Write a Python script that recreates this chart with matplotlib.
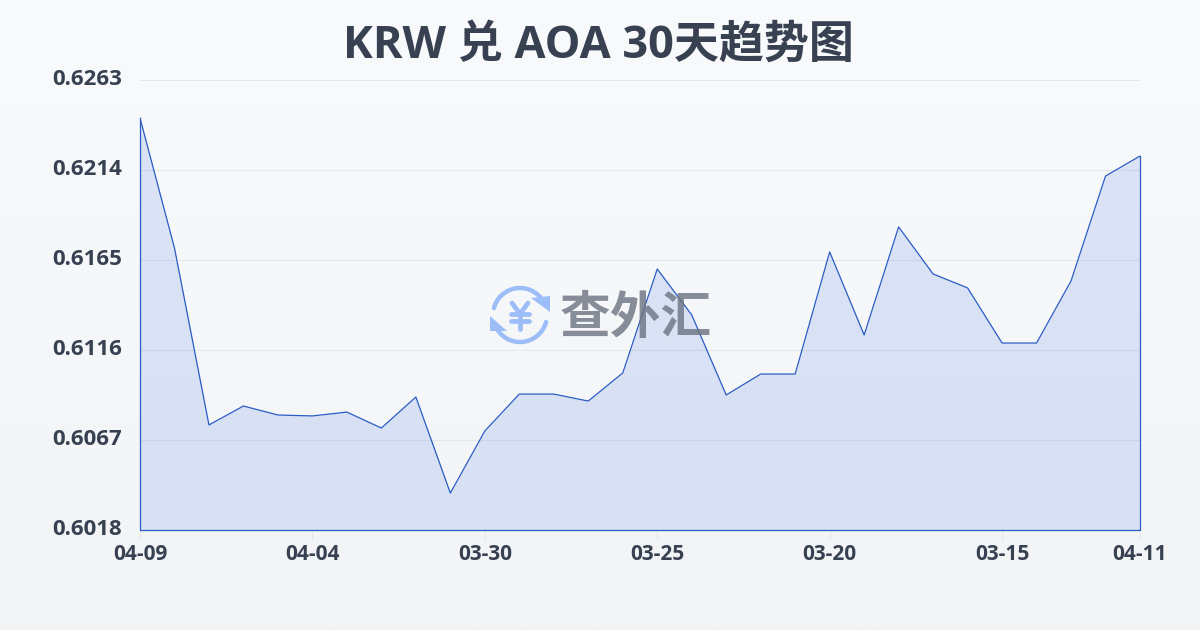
#!/usr/bin/env python3
"""KRW / AOA 30 day trend chart."""

import matplotlib

matplotlib.use("Agg")
import matplotlib.pyplot as plt
import numpy as np
from matplotlib.patches import Arc, Polygon
from matplotlib.transforms import ScaledTranslation

plt.rcParams["font.family"] = ["Open Sans", "Noto Sans CJK SC", "DejaVu Sans"]

TITLE = "KRW 兑 AOA 30天趋势图"
WATERMARK = "查外汇"

RATES = [
    0.62423, 0.61715, 0.60752, 0.60855, 0.60806, 0.60801, 0.60822, 0.60735,
    0.60904, 0.60381, 0.60719, 0.60920, 0.60920, 0.60882, 0.61035, 0.61601,
    0.61351, 0.60915, 0.61029, 0.61029, 0.61694, 0.61242, 0.61830, 0.61574,
    0.61498, 0.61198, 0.61198, 0.61536, 0.62107, 0.62216,
]
X_TICK_POS = [0, 5, 10, 15, 20, 25, 29]
X_TICK_LABELS = ["04-09", "04-04", "03-30", "03-25", "03-20", "03-15", "04-11"]
Y_TICKS = [0.6018, 0.6067, 0.6116, 0.6165, 0.6214, 0.6263]

TEXT = "#374151"
LINE = "#2a5cc4"
GRID = "#e5e7eb"
LOGO = "#9cbdf7"

W, H = 1200, 630


def draw_background(fig) -> None:
    bg = fig.add_axes([0, 0, 1, 1], zorder=0)
    top = np.array([248, 250, 252]) / 255
    bottom = np.array([243, 244, 246]) / 255
    t = np.linspace(0, 1, 256)[:, None, None]
    bg.imshow(top + (bottom - top) * t, aspect="auto", extent=[0, 1, 0, 1])
    bg.axis("off")


def draw_watermark(fig) -> None:
    # overlay in pixel coords, y down
    ov = fig.add_axes([0, 0, 1, 1], zorder=5)
    ov.set_xlim(0, W)
    ov.set_ylim(H, 0)
    ov.axis("off")
    ov.patch.set_alpha(0)

    # arcs use screen angles; y axis is flipped so angles run clockwise
    for start, end in [(195, 325), (15, 150)]:
        ov.add_patch(Arc((520, 315), 54, 54, theta1=start, theta2=end, color=LOGO, lw=3.2, capstyle="round"))
    ov.add_patch(Polygon([(531, 298), (550, 296), (550, 312)], color=LOGO, lw=0))
    ov.add_patch(Polygon([(490, 316), (490, 331), (507, 331)], color=LOGO, lw=0))

    # yen sign
    kw = dict(color=LOGO, lw=3.4, solid_capstyle="round", solid_joinstyle="round")
    ov.plot([512, 520, 528], [303, 314, 303], **kw)
    ov.plot([511, 529], [314, 314], **kw)
    ov.plot([511, 529], [321, 321], **kw)
    ov.plot([520, 520], [314, 329], **kw)

    ov.text(636, 319, WATERMARK, fontsize=36.5, fontweight="bold", family=["Noto Sans CJK SC"],
            color="#6b7280", alpha=0.8, ha="center", va="center")


def main() -> None:
    fig = plt.figure(figsize=(W / 100, H / 100), dpi=100)
    draw_background(fig)

    ax = fig.add_axes([140 / W, 1 - 530 / H, 1000 / W, 450 / H], zorder=2)
    ax.patch.set_alpha(0)
    x = np.arange(len(RATES))
    ax.set_xlim(x[0], x[-1])
    ax.set_ylim(Y_TICKS[0], Y_TICKS[-1])

    ax.fill_between(x, RATES, Y_TICKS[0], color="#3b6fe0", alpha=0.15, lw=0, zorder=2)
    ax.plot(x, RATES, color=LINE, lw=0.9, zorder=3)
    # series outline also closes down the left, right and base
    ax.plot([x[0], x[0], x[-1], x[-1]], [RATES[0], Y_TICKS[0], Y_TICKS[0], RATES[-1]], color=LINE, lw=0.9, zorder=3, clip_on=False)

    ax.set_yticks(Y_TICKS)
    ax.set_yticklabels([f"{v:.4f}" for v in Y_TICKS])
    ax.set_xticks(X_TICK_POS)
    ax.set_xticklabels(X_TICK_LABELS)
    ax.grid(axis="y", color=GRID, lw=0.8, zorder=1)
    ax.set_axisbelow(True)
    for side in ax.spines.values():
        side.set_visible(False)
    ax.tick_params(axis="y", length=0, pad=13, labelsize=16, labelcolor=TEXT)
    ax.tick_params(axis="x", length=7, width=0.8, color=GRID, pad=3, labelsize=15, labelcolor=TEXT)
    for lab in ax.get_xticklabels() + ax.get_yticklabels():
        lab.set_fontweight("bold")
    # y labels sit a little above their gridlines
    nudge = ScaledTranslation(0, 2 / 72, fig.dpi_scale_trans)
    for lab in ax.get_yticklabels():
        lab.set_transform(lab.get_transform() + nudge)

    fig.text(598 / W, 1 - 46 / H, TITLE, fontsize=32.4, fontweight="bold", color=TEXT, ha="center", va="center")

    draw_watermark(fig)
    fig.savefig("out.png", dpi=100)
    plt.close(fig)


if __name__ == "__main__":
    main()
